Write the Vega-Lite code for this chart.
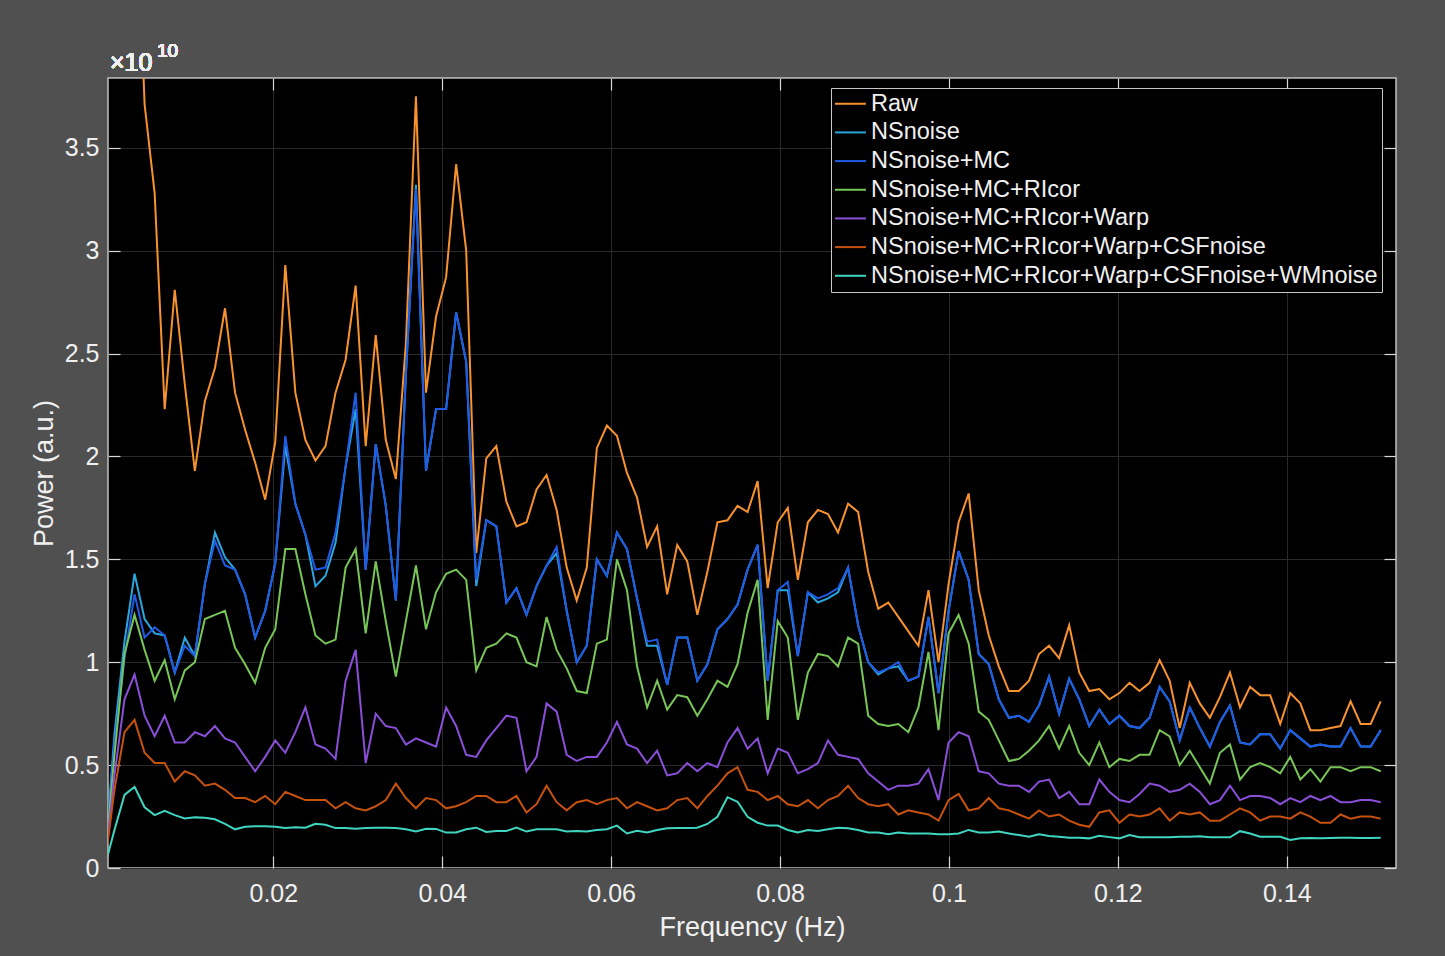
{
"$schema": "https://vega.github.io/schema/vega-lite/v6.json",
"width": 1288, "height": 790,
"autosize": {"type": "none"},
"padding": {"left": 108, "top": 78, "right": 49, "bottom": 88},
"background": "#505050",
"config": {
  "font": "Liberation Sans",
  "view": {"fill": "#000000", "stroke": "#c0c0c0", "strokeWidth": 1.5}
},
"title": {"text": "Power spectral density", "fontSize": 27.5, "fontWeight": "bold", "color": "#ffffff", "offset": 9, "anchor": "middle", "font": "Liberation Sans"},
"data": {"values": [
{"f":0,"raw":12,"ns":0,"mc":0,"ri":0,"wp":0,"csf":0,"wm":0},
{"f":0.00119,"raw":9,"ns":0.65,"mc":0.6,"ri":0.55,"wp":0.45,"csf":0.38,"wm":0.185},
{"f":0.00238,"raw":7,"ns":1.10,"mc":1.02,"ri":1.04,"wp":0.82,"csf":0.66,"wm":0.355},
{"f":0.00357,"raw":5,"ns":1.43,"mc":1.33,"ri":1.23,"wp":0.94,"csf":0.72,"wm":0.395},
{"f":0.00476,"raw":3.71,"ns":1.21,"mc":1.12,"ri":1.06,"wp":0.74,"csf":0.56,"wm":0.295},
{"f":0.00595,"raw":3.28,"ns":1.14,"mc":1.17,"ri":0.91,"wp":0.64,"csf":0.51,"wm":0.257},
{"f":0.00714,"raw":2.23,"ns":1.13,"mc":1.13,"ri":1.01,"wp":0.74,"csf":0.51,"wm":0.278},
{"f":0.00833,"raw":2.81,"ns":0.95,"mc":0.95,"ri":0.82,"wp":0.61,"csf":0.42,"wm":0.257},
{"f":0.00952,"raw":2.35,"ns":1.12,"mc":1.08,"ri":0.96,"wp":0.61,"csf":0.47,"wm":0.241},
{"f":0.01071,"raw":1.93,"ns":1.03,"mc":1.03,"ri":1.00,"wp":0.66,"csf":0.45,"wm":0.246},
{"f":0.0119,"raw":2.27,"ns":1.38,"mc":1.38,"ri":1.21,"wp":0.64,"csf":0.40,"wm":0.244},
{"f":0.01309,"raw":2.43,"ns":1.63,"mc":1.59,"ri":1.23,"wp":0.69,"csf":0.41,"wm":0.237},
{"f":0.01428,"raw":2.72,"ns":1.51,"mc":1.47,"ri":1.25,"wp":0.63,"csf":0.38,"wm":0.214},
{"f":0.01547,"raw":2.31,"ns":1.45,"mc":1.45,"ri":1.07,"wp":0.61,"csf":0.34,"wm":0.188},
{"f":0.01666,"raw":2.13,"ns":1.33,"mc":1.33,"ri":0.99,"wp":0.54,"csf":0.34,"wm":0.20},
{"f":0.01785,"raw":1.97,"ns":1.12,"mc":1.12,"ri":0.90,"wp":0.47,"csf":0.32,"wm":0.203},
{"f":0.01904,"raw":1.79,"ns":1.25,"mc":1.25,"ri":1.07,"wp":0.54,"csf":0.35,"wm":0.203},
{"f":0.02023,"raw":2.07,"ns":1.48,"mc":1.48,"ri":1.16,"wp":0.62,"csf":0.31,"wm":0.20},
{"f":0.02142,"raw":2.93,"ns":2.05,"mc":2.10,"ri":1.55,"wp":0.56,"csf":0.37,"wm":0.194},
{"f":0.02261,"raw":2.31,"ns":1.77,"mc":1.77,"ri":1.55,"wp":0.66,"csf":0.35,"wm":0.198},
{"f":0.0238,"raw":2.08,"ns":1.62,"mc":1.62,"ri":1.33,"wp":0.78,"csf":0.33,"wm":0.196},
{"f":0.02499,"raw":1.98,"ns":1.37,"mc":1.45,"ri":1.13,"wp":0.60,"csf":0.33,"wm":0.215},
{"f":0.02618,"raw":2.05,"ns":1.42,"mc":1.46,"ri":1.09,"wp":0.58,"csf":0.33,"wm":0.21},
{"f":0.02737,"raw":2.31,"ns":1.58,"mc":1.63,"ri":1.11,"wp":0.53,"csf":0.29,"wm":0.194},
{"f":0.02856,"raw":2.47,"ns":1.95,"mc":1.95,"ri":1.46,"wp":0.91,"csf":0.32,"wm":0.194},
{"f":0.02975,"raw":2.83,"ns":2.23,"mc":2.31,"ri":1.55,"wp":1.06,"csf":0.29,"wm":0.191},
{"f":0.03094,"raw":2.05,"ns":1.45,"mc":1.45,"ri":1.14,"wp":0.51,"csf":0.28,"wm":0.194},
{"f":0.03213,"raw":2.59,"ns":2.06,"mc":2.06,"ri":1.49,"wp":0.75,"csf":0.30,"wm":0.196},
{"f":0.03332,"raw":2.08,"ns":1.76,"mc":1.76,"ri":1.2,"wp":0.69,"csf":0.33,"wm":0.196},
{"f":0.03451,"raw":1.89,"ns":1.30,"mc":1.30,"ri":0.93,"wp":0.68,"csf":0.41,"wm":0.194},
{"f":0.0357,"raw":2.55,"ns":2.4,"mc":2.4,"ri":1.2,"wp":0.60,"csf":0.34,"wm":0.188},
{"f":0.03689,"raw":3.75,"ns":3.32,"mc":3.30,"ri":1.47,"wp":0.63,"csf":0.29,"wm":0.178},
{"f":0.03808,"raw":2.31,"ns":1.93,"mc":1.93,"ri":1.16,"wp":0.61,"csf":0.34,"wm":0.191},
{"f":0.03927,"raw":2.68,"ns":2.23,"mc":2.23,"ri":1.34,"wp":0.59,"csf":0.33,"wm":0.19},
{"f":0.04046,"raw":2.87,"ns":2.23,"mc":2.23,"ri":1.43,"wp":0.78,"csf":0.29,"wm":0.172},
{"f":0.04165,"raw":3.42,"ns":2.70,"mc":2.70,"ri":1.45,"wp":0.69,"csf":0.30,"wm":0.173},
{"f":0.04284,"raw":3.0,"ns":2.46,"mc":2.46,"ri":1.40,"wp":0.55,"csf":0.32,"wm":0.188},
{"f":0.04403,"raw":1.53,"ns":1.37,"mc":1.40,"ri":0.96,"wp":0.54,"csf":0.35,"wm":0.196},
{"f":0.04522,"raw":1.99,"ns":1.69,"mc":1.69,"ri":1.07,"wp":0.62,"csf":0.35,"wm":0.175},
{"f":0.04641,"raw":2.05,"ns":1.66,"mc":1.66,"ri":1.09,"wp":0.68,"csf":0.32,"wm":0.18},
{"f":0.0476,"raw":1.78,"ns":1.29,"mc":1.29,"ri":1.14,"wp":0.74,"csf":0.32,"wm":0.18},
{"f":0.04879,"raw":1.66,"ns":1.36,"mc":1.36,"ri":1.12,"wp":0.73,"csf":0.35,"wm":0.196},
{"f":0.04998,"raw":1.68,"ns":1.23,"mc":1.23,"ri":1.00,"wp":0.47,"csf":0.27,"wm":0.177},
{"f":0.05117,"raw":1.84,"ns":1.37,"mc":1.37,"ri":0.98,"wp":0.54,"csf":0.31,"wm":0.188},
{"f":0.05236,"raw":1.91,"ns":1.47,"mc":1.47,"ri":1.22,"wp":0.80,"csf":0.40,"wm":0.188},
{"f":0.05355,"raw":1.74,"ns":1.53,"mc":1.56,"ri":1.06,"wp":0.76,"csf":0.32,"wm":0.188},
{"f":0.05474,"raw":1.46,"ns":1.25,"mc":1.25,"ri":0.97,"wp":0.55,"csf":0.28,"wm":0.177},
{"f":0.05593,"raw":1.30,"ns":1.00,"mc":1.00,"ri":0.86,"wp":0.52,"csf":0.32,"wm":0.18},
{"f":0.05712,"raw":1.46,"ns":1.08,"mc":1.08,"ri":0.85,"wp":0.54,"csf":0.33,"wm":0.177},
{"f":0.05831,"raw":2.04,"ns":1.50,"mc":1.50,"ri":1.09,"wp":0.54,"csf":0.31,"wm":0.185},
{"f":0.0595,"raw":2.15,"ns":1.42,"mc":1.42,"ri":1.11,"wp":0.61,"csf":0.33,"wm":0.188},
{"f":0.06069,"raw":2.10,"ns":1.63,"mc":1.63,"ri":1.50,"wp":0.71,"csf":0.34,"wm":0.206},
{"f":0.06188,"raw":1.92,"ns":1.55,"mc":1.55,"ri":1.35,"wp":0.60,"csf":0.29,"wm":0.168},
{"f":0.06307,"raw":1.80,"ns":1.31,"mc":1.31,"ri":0.98,"wp":0.58,"csf":0.32,"wm":0.181},
{"f":0.06426,"raw":1.56,"ns":1.08,"mc":1.10,"ri":0.78,"wp":0.51,"csf":0.30,"wm":0.173},
{"f":0.06545,"raw":1.66,"ns":1.08,"mc":1.11,"ri":0.91,"wp":0.57,"csf":0.28,"wm":0.185},
{"f":0.06664,"raw":1.33,"ns":0.89,"mc":0.89,"ri":0.77,"wp":0.45,"csf":0.29,"wm":0.193},
{"f":0.06783,"raw":1.57,"ns":1.12,"mc":1.12,"ri":0.84,"wp":0.46,"csf":0.33,"wm":0.194},
{"f":0.06902,"raw":1.49,"ns":1.12,"mc":1.12,"ri":0.83,"wp":0.51,"csf":0.34,"wm":0.194},
{"f":0.07021,"raw":1.23,"ns":0.91,"mc":0.91,"ri":0.74,"wp":0.47,"csf":0.29,"wm":0.196},
{"f":0.0714,"raw":1.44,"ns":0.99,"mc":0.99,"ri":0.82,"wp":0.51,"csf":0.35,"wm":0.214},
{"f":0.07259,"raw":1.68,"ns":1.16,"mc":1.16,"ri":0.91,"wp":0.49,"csf":0.40,"wm":0.249},
{"f":0.07378,"raw":1.69,"ns":1.21,"mc":1.21,"ri":0.88,"wp":0.61,"csf":0.46,"wm":0.344},
{"f":0.07497,"raw":1.76,"ns":1.28,"mc":1.28,"ri":0.99,"wp":0.68,"csf":0.49,"wm":0.322},
{"f":0.07616,"raw":1.73,"ns":1.45,"mc":1.45,"ri":1.24,"wp":0.58,"csf":0.38,"wm":0.249},
{"f":0.07735,"raw":1.88,"ns":1.57,"mc":1.57,"ri":1.40,"wp":0.63,"csf":0.37,"wm":0.22},
{"f":0.07854,"raw":1.36,"ns":0.91,"mc":0.91,"ri":0.72,"wp":0.46,"csf":0.33,"wm":0.206},
{"f":0.07973,"raw":1.68,"ns":1.35,"mc":1.35,"ri":1.20,"wp":0.58,"csf":0.35,"wm":0.206},
{"f":0.08092,"raw":1.75,"ns":1.35,"mc":1.39,"ri":1.12,"wp":0.56,"csf":0.31,"wm":0.185},
{"f":0.08211,"raw":1.40,"ns":1.03,"mc":1.03,"ri":0.72,"wp":0.46,"csf":0.30,"wm":0.173},
{"f":0.0833,"raw":1.68,"ns":1.34,"mc":1.34,"ri":0.95,"wp":0.48,"csf":0.33,"wm":0.185},
{"f":0.08449,"raw":1.74,"ns":1.29,"mc":1.31,"ri":1.04,"wp":0.51,"csf":0.29,"wm":0.18},
{"f":0.08568,"raw":1.72,"ns":1.31,"mc":1.33,"ri":1.03,"wp":0.62,"csf":0.33,"wm":0.188},
{"f":0.08687,"raw":1.63,"ns":1.34,"mc":1.36,"ri":0.98,"wp":0.55,"csf":0.35,"wm":0.196},
{"f":0.08806,"raw":1.77,"ns":1.46,"mc":1.46,"ri":1.12,"wp":0.54,"csf":0.40,"wm":0.193},
{"f":0.08925,"raw":1.73,"ns":1.18,"mc":1.18,"ri":1.09,"wp":0.53,"csf":0.34,"wm":0.185},
{"f":0.09044,"raw":1.44,"ns":1.00,"mc":1.00,"ri":0.74,"wp":0.46,"csf":0.31,"wm":0.173},
{"f":0.09163,"raw":1.26,"ns":0.94,"mc":0.95,"ri":0.70,"wp":0.42,"csf":0.30,"wm":0.173},
{"f":0.09282,"raw":1.29,"ns":0.97,"mc":0.97,"ri":0.69,"wp":0.38,"csf":0.31,"wm":0.164},
{"f":0.09401,"raw":1.22,"ns":0.98,"mc":1.00,"ri":0.70,"wp":0.40,"csf":0.26,"wm":0.173},
{"f":0.0952,"raw":1.15,"ns":0.91,"mc":0.91,"ri":0.66,"wp":0.40,"csf":0.28,"wm":0.168},
{"f":0.09639,"raw":1.08,"ns":0.93,"mc":0.93,"ri":0.78,"wp":0.41,"csf":0.27,"wm":0.168},
{"f":0.09758,"raw":1.35,"ns":1.22,"mc":1.22,"ri":1.05,"wp":0.48,"csf":0.26,"wm":0.168},
{"f":0.09877,"raw":1.00,"ns":0.85,"mc":0.85,"ri":0.67,"wp":0.33,"csf":0.23,"wm":0.164},
{"f":0.09996,"raw":1.38,"ns":1.25,"mc":1.25,"ri":1.14,"wp":0.61,"csf":0.33,"wm":0.164},
{"f":0.10115,"raw":1.68,"ns":1.54,"mc":1.54,"ri":1.23,"wp":0.66,"csf":0.36,"wm":0.168},
{"f":0.10234,"raw":1.82,"ns":1.40,"mc":1.40,"ri":1.09,"wp":0.64,"csf":0.28,"wm":0.185},
{"f":0.10353,"raw":1.35,"ns":1.04,"mc":1.04,"ri":0.76,"wp":0.47,"csf":0.29,"wm":0.173},
{"f":0.10472,"raw":1.13,"ns":0.99,"mc":0.99,"ri":0.72,"wp":0.46,"csf":0.34,"wm":0.173},
{"f":0.10591,"raw":0.98,"ns":0.82,"mc":0.82,"ri":0.62,"wp":0.41,"csf":0.29,"wm":0.177},
{"f":0.1071,"raw":0.86,"ns":0.73,"mc":0.73,"ri":0.52,"wp":0.40,"csf":0.28,"wm":0.168},
{"f":0.10829,"raw":0.86,"ns":0.74,"mc":0.74,"ri":0.53,"wp":0.40,"csf":0.26,"wm":0.16},
{"f":0.10948,"raw":0.91,"ns":0.71,"mc":0.71,"ri":0.57,"wp":0.37,"csf":0.24,"wm":0.152},
{"f":0.11067,"raw":1.04,"ns":0.79,"mc":0.79,"ri":0.62,"wp":0.42,"csf":0.28,"wm":0.164},
{"f":0.11186,"raw":1.08,"ns":0.93,"mc":0.93,"ri":0.69,"wp":0.43,"csf":0.25,"wm":0.155},
{"f":0.11305,"raw":1.02,"ns":0.75,"mc":0.75,"ri":0.58,"wp":0.34,"csf":0.26,"wm":0.152},
{"f":0.11424,"raw":1.18,"ns":0.92,"mc":0.92,"ri":0.69,"wp":0.37,"csf":0.23,"wm":0.147},
{"f":0.11543,"raw":0.95,"ns":0.82,"mc":0.82,"ri":0.56,"wp":0.31,"csf":0.21,"wm":0.147},
{"f":0.11662,"raw":0.86,"ns":0.69,"mc":0.69,"ri":0.50,"wp":0.31,"csf":0.20,"wm":0.144},
{"f":0.11781,"raw":0.87,"ns":0.77,"mc":0.77,"ri":0.61,"wp":0.43,"csf":0.27,"wm":0.157},
{"f":0.119,"raw":0.82,"ns":0.70,"mc":0.70,"ri":0.49,"wp":0.37,"csf":0.28,"wm":0.15},
{"f":0.12019,"raw":0.85,"ns":0.74,"mc":0.74,"ri":0.53,"wp":0.33,"csf":0.22,"wm":0.144},
{"f":0.12138,"raw":0.90,"ns":0.69,"mc":0.69,"ri":0.52,"wp":0.32,"csf":0.26,"wm":0.16},
{"f":0.12257,"raw":0.86,"ns":0.68,"mc":0.68,"ri":0.55,"wp":0.36,"csf":0.25,"wm":0.15},
{"f":0.12376,"raw":0.90,"ns":0.73,"mc":0.73,"ri":0.55,"wp":0.41,"csf":0.26,"wm":0.15},
{"f":0.12495,"raw":1.01,"ns":0.88,"mc":0.88,"ri":0.67,"wp":0.40,"csf":0.29,"wm":0.15},
{"f":0.12614,"raw":0.91,"ns":0.81,"mc":0.81,"ri":0.64,"wp":0.37,"csf":0.23,"wm":0.15},
{"f":0.12733,"raw":0.68,"ns":0.62,"mc":0.62,"ri":0.50,"wp":0.38,"csf":0.27,"wm":0.152},
{"f":0.12852,"raw":0.90,"ns":0.78,"mc":0.78,"ri":0.57,"wp":0.41,"csf":0.26,"wm":0.152},
{"f":0.12971,"raw":0.80,"ns":0.68,"mc":0.68,"ri":0.49,"wp":0.37,"csf":0.27,"wm":0.154},
{"f":0.1309,"raw":0.73,"ns":0.59,"mc":0.59,"ri":0.41,"wp":0.31,"csf":0.23,"wm":0.15},
{"f":0.13209,"raw":0.83,"ns":0.71,"mc":0.71,"ri":0.56,"wp":0.33,"csf":0.23,"wm":0.149},
{"f":0.13328,"raw":0.95,"ns":0.79,"mc":0.79,"ri":0.60,"wp":0.40,"csf":0.26,"wm":0.149},
{"f":0.13447,"raw":0.78,"ns":0.61,"mc":0.61,"ri":0.43,"wp":0.33,"csf":0.29,"wm":0.179},
{"f":0.13566,"raw":0.88,"ns":0.60,"mc":0.60,"ri":0.49,"wp":0.35,"csf":0.27,"wm":0.168},
{"f":0.13685,"raw":0.84,"ns":0.65,"mc":0.65,"ri":0.51,"wp":0.35,"csf":0.23,"wm":0.152},
{"f":0.13804,"raw":0.84,"ns":0.65,"mc":0.65,"ri":0.49,"wp":0.34,"csf":0.25,"wm":0.152},
{"f":0.13923,"raw":0.70,"ns":0.58,"mc":0.58,"ri":0.46,"wp":0.31,"csf":0.25,"wm":0.152},
{"f":0.14042,"raw":0.85,"ns":0.67,"mc":0.67,"ri":0.54,"wp":0.34,"csf":0.24,"wm":0.136},
{"f":0.14161,"raw":0.80,"ns":0.63,"mc":0.63,"ri":0.43,"wp":0.32,"csf":0.27,"wm":0.144},
{"f":0.1428,"raw":0.67,"ns":0.59,"mc":0.59,"ri":0.48,"wp":0.35,"csf":0.25,"wm":0.146},
{"f":0.14399,"raw":0.67,"ns":0.60,"mc":0.60,"ri":0.42,"wp":0.33,"csf":0.22,"wm":0.144},
{"f":0.14518,"raw":0.68,"ns":0.59,"mc":0.59,"ri":0.49,"wp":0.35,"csf":0.22,"wm":0.146},
{"f":0.14637,"raw":0.69,"ns":0.59,"mc":0.59,"ri":0.49,"wp":0.32,"csf":0.26,"wm":0.147},
{"f":0.14756,"raw":0.81,"ns":0.68,"mc":0.68,"ri":0.47,"wp":0.32,"csf":0.24,"wm":0.147},
{"f":0.14875,"raw":0.70,"ns":0.59,"mc":0.59,"ri":0.49,"wp":0.33,"csf":0.25,"wm":0.146},
{"f":0.14994,"raw":0.70,"ns":0.59,"mc":0.59,"ri":0.49,"wp":0.33,"csf":0.25,"wm":0.146},
{"f":0.15113,"raw":0.81,"ns":0.67,"mc":0.67,"ri":0.47,"wp":0.32,"csf":0.24,"wm":0.147}
]},
"transform": [{"fold": ["raw","ns","mc","ri","wp","csf","wm"], "as": ["series","power"]}],
"layer": [
  {
    "mark": {"type": "line", "strokeWidth": 2, "clip": true},
    "encoding": {
      "x": {"field": "f", "type": "quantitative",
        "scale": {"domain": [0.000426, 0.15294], "nice": false, "zero": false},
        "axis": {"orient": "bottom", "values": [0.02,0.04,0.06,0.08,0.1,0.12,0.14], "format": ".2~f",
          "labelFontSize": 25, "labelColor": "#f0f0f0", "labelPadding": 25, "labelFont": "Liberation Sans",
          "tickSize": -12, "tickColor": "#d8d8d8", "tickWidth": 1.2,
          "grid": true, "gridColor": "#2a2a2a", "gridWidth": 1, "domain": false,
          "title": "Frequency (Hz)", "titleFontSize": 27, "titleFontWeight": "normal", "titleColor": "#f0f0f0", "titlePadding": 8, "titleFont": "Liberation Sans"}},
      "y": {"field": "power", "type": "quantitative",
        "scale": {"domain": [0, 3.839], "nice": false, "zero": false},
        "axis": {"orient": "left", "values": [0,0.5,1,1.5,2,2.5,3,3.5], "format": ".1~f",
          "labelFontSize": 25, "labelColor": "#f0f0f0", "labelPadding": 21, "labelFont": "Liberation Sans",
          "tickSize": -12, "tickColor": "#d8d8d8", "tickWidth": 1.2,
          "grid": true, "gridColor": "#2a2a2a", "gridWidth": 1, "domain": false,
          "title": "Power (a.u.)", "titleFontSize": 27, "titleFontWeight": "normal", "titleColor": "#f0f0f0", "titlePadding": 6, "titleFont": "Liberation Sans"}},
      "color": {"field": "series", "type": "nominal",
        "scale": {"domain": ["raw","ns","mc","ri","wp","csf","wm"], "range": ["#F7922E","#2AA6DE","#1F5CE6","#78C558","#8A4FD8","#C6520E","#40D5C0"]},
        "legend": {"orient": "none", "legendX": 723, "legendY": 10, "title": null,
          "symbolType": "M -1.18 0 L 1.92 0", "symbolSize": 400, "symbolStrokeWidth": 2,
          "labelFontSize": 23.5, "labelColor": "#f0f0f0", "labelFont": "Liberation Sans", "labelLimit": 1000,
          "labelOffset": 12.5, "rowPadding": 3.67, "padding": 4,
          "fillColor": "#000000", "strokeColor": "#c8c8c8", "cornerRadius": 0,
          "labelExpr": "{'raw':'Raw','ns':'NSnoise','mc':'NSnoise+MC','ri':'NSnoise+MC+RIcor','wp':'NSnoise+MC+RIcor+Warp','csf':'NSnoise+MC+RIcor+Warp+CSFnoise','wm':'NSnoise+MC+RIcor+Warp+CSFnoise+WMnoise'}[datum.label]"}}
    }
  },
  {
    "mark": {"type": "point", "opacity": 0},
    "encoding": {
      "x": {"field": "f", "type": "quantitative",
        "scale": {"domain": [0.000426, 0.15294], "nice": false, "zero": false},
        "axis": {"orient": "top", "values": [0.02,0.04,0.06,0.08,0.1,0.12,0.14], "labels": false, "tickSize": -12, "tickColor": "#d8d8d8", "tickWidth": 1.2, "grid": false, "domain": false, "title": null}},
      "y": {"field": "power", "type": "quantitative",
        "scale": {"domain": [0, 3.839], "nice": false, "zero": false},
        "axis": {"orient": "right", "values": [0,0.5,1,1.5,2,2.5,3,3.5], "labels": false, "tickSize": -12, "tickColor": "#d8d8d8", "tickWidth": 1.2, "grid": false, "domain": false, "title": null}}
    }
  },
  {
    "mark": {"type": "text", "text": "×10", "align": "left", "baseline": "alphabetic", "dx": 2, "dy": -7, "fontSize": 25, "fontWeight": "normal", "color": "#f0f0f0", "font": "Liberation Sans"},
    "encoding": {
      "x": {"datum": 0.000426, "type": "quantitative", "axis": null},
      "y": {"datum": 3.839, "type": "quantitative", "axis": null}
    }
  },
  {
    "mark": {"type": "text", "text": "10", "align": "left", "baseline": "alphabetic", "dx": 49, "dy": -21, "fontSize": 19, "fontWeight": "normal", "color": "#f0f0f0", "font": "Liberation Sans"},
    "encoding": {
      "x": {"datum": 0.000426, "type": "quantitative", "axis": null},
      "y": {"datum": 3.839, "type": "quantitative", "axis": null}
    }
  }
],
"resolve": {"axis": {"x": "independent", "y": "independent"}}
}
